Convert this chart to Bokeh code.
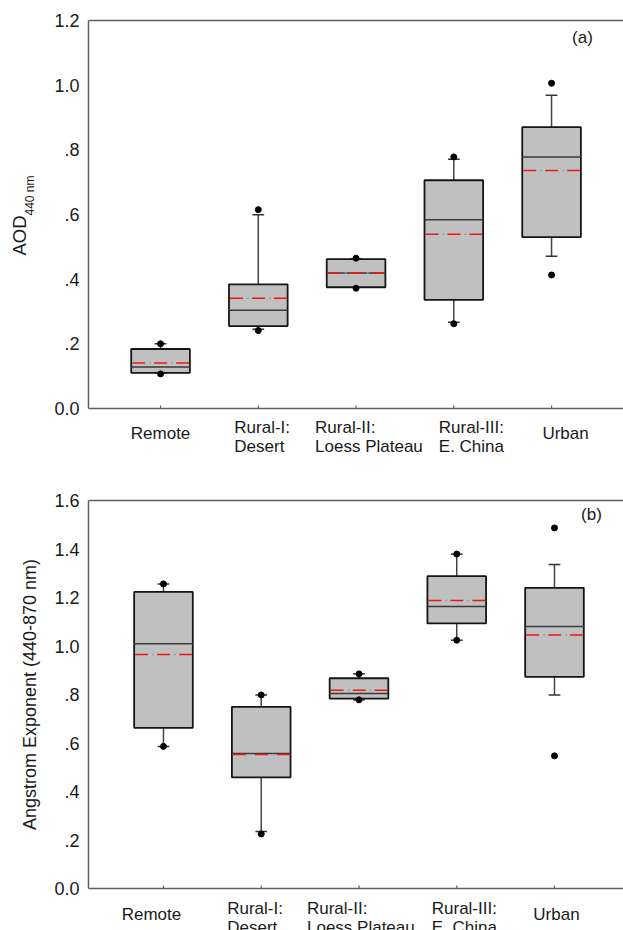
import math
from bokeh.plotting import figure
from bokeh.models import ColumnDataSource, FixedTicker, LinearAxis, Label, Range1d
from bokeh.core.properties import value
from bokeh.layouts import column
from bokeh.embed import file_html
from bokeh.resources import INLINE

# ---------------- data ----------------
cat_line1 = ["Remote", "Rural-I:", "Rural-II:", "Rural-III:", "Urban"]
cat_line2 = ["", "Desert", "Loess Plateau", "E. China", ""]
cat_pos = [1, 2, 3, 4, 5]

# Panel (a): AOD 440 nm
aod_q1 = [0.110, 0.255, 0.375, 0.336, 0.530]
aod_median = [0.128, 0.304, 0.419, 0.584, 0.778]
aod_q3 = [0.184, 0.384, 0.462, 0.706, 0.870]
aod_mean = [0.141, 0.341, 0.419, 0.539, 0.736]
aod_whisker_low = [0.110, 0.245, 0.375, 0.267, 0.471]
aod_whisker_high = [0.200, 0.599, 0.462, 0.771, 0.969]
aod_point_low = [0.107, 0.241, 0.372, 0.262, 0.413]
aod_point_high = [0.200, 0.615, 0.465, 0.778, 1.006]
aod_ticks = [0, 0.2, 0.4, 0.6, 0.8, 1.0, 1.2]
aod_tick_labels = ["0.0", ".2", ".4", ".6", ".8", "1.0", "1.2"]

# Panel (b): Angstrom exponent 440-870 nm
ae_q1 = [0.662, 0.458, 0.783, 1.093, 0.873]
ae_median = [1.009, 0.557, 0.804, 1.163, 1.080]
ae_q3 = [1.223, 0.749, 0.867, 1.288, 1.240]
ae_mean = [0.965, 0.553, 0.818, 1.188, 1.045]
ae_whisker_low = [0.586, 0.235, 0.778, 1.024, 0.798]
ae_whisker_high = [1.256, 0.798, 0.885, 1.379, 1.336]
ae_point_low = [0.586, 0.225, 0.778, 1.024, 0.547]
ae_point_high = [1.256, 0.798, 0.885, 1.379, 1.487]
ae_ticks = [0, 0.2, 0.4, 0.6, 0.8, 1.0, 1.2, 1.4, 1.6]
ae_tick_labels = ["0.0", ".2", ".4", ".6", ".8", "1.0", "1.2", "1.4", "1.6"]

# ---------------- styles ----------------
FONT = "Liberation Sans"
BOX_W = 0.6
CAP_W = 0.12
MEAN_W = 0.58
BOX_FILL = "#c0c0c0"
AXIS_COLOR = "#606060"
TEXT_COLOR = "#1a1a1a"
FRAME_W = 535
FRAME_H = 388


def make_panel(q1, med, q3, mean, wlo, whi, plo, phi, ticks, tick_labels,
               x_start, x_end, y_end, border_top, border_bottom):
    src = ColumnDataSource(dict(
        x=cat_pos,
        zero=[0] * len(cat_pos),
        left=[c - BOX_W / 2 for c in cat_pos],
        right=[c + BOX_W / 2 for c in cat_pos],
        mx0=[c - MEAN_W / 2 for c in cat_pos],
        mx1=[c + MEAN_W / 2 for c in cat_pos],
        cx0=[c - CAP_W / 2 for c in cat_pos],
        cx1=[c + CAP_W / 2 for c in cat_pos],
        q1=q1, med=med, q3=q3, mean=mean, wlo=wlo, whi=whi, plo=plo, phi=phi,
    ))
    p = figure(frame_width=FRAME_W, frame_height=FRAME_H,
               x_range=Range1d(x_start, x_end), y_range=Range1d(0, y_end),
               output_backend="svg", toolbar_location=None,
               min_border_left=88, min_border_right=0,
               min_border_top=border_top, min_border_bottom=border_bottom)
    p.grid.visible = False
    p.outline_line_color = None
    p.background_fill_color = "white"

    p.segment(x0="x", y0="q3", x1="x", y1="whi", source=src,
              line_color="#444444", line_width=1.5)
    p.segment(x0="x", y0="q1", x1="x", y1="wlo", source=src,
              line_color="#444444", line_width=1.5)
    p.segment(x0="cx0", y0="whi", x1="cx1", y1="whi", source=src,
              line_color="#333333", line_width=1.5)
    p.segment(x0="cx0", y0="wlo", x1="cx1", y1="wlo", source=src,
              line_color="#333333", line_width=1.5)
    p.quad(left="left", right="right", bottom="q1", top="q3", source=src,
           fill_color=BOX_FILL, line_color="#151515", line_width=1.8)
    p.segment(x0="left", y0="med", x1="right", y1="med", source=src,
              line_color="#3a3a3a", line_width=1.5)
    p.segment(x0="mx0", y0="mean", x1="mx1", y1="mean", source=src,
              line_color="#ee1515", line_width=1.5, line_dash="13 9")
    p.segment(x0="mx0", y0="mean", x1="mx1", y1="mean", source=src,
              line_color="#8fa3a3", line_width=1.5, line_dash="2 20",
              line_dash_offset=5)
    p.scatter(x="x", y="phi", source=src, size=6, color="black")
    p.scatter(x="x", y="plo", source=src, size=6, color="black")
    # small inward category tick marks on the x axis (lower half clipped)
    p.scatter(x="x", y="zero", source=src, marker="dash", angle=math.pi / 2,
              size=6, line_color=AXIS_COLOR, line_width=1.2)

    p.yaxis.ticker = FixedTicker(ticks=ticks)
    p.yaxis.major_label_overrides = {t: l for t, l in zip(ticks, tick_labels)}
    p.yaxis.major_tick_in = 0
    p.yaxis.major_tick_out = 0
    p.yaxis.minor_tick_line_color = None
    p.yaxis.major_label_standoff = 9
    p.yaxis.major_label_text_font = FONT
    p.yaxis.major_label_text_font_size = "18px"
    p.yaxis.major_label_text_color = TEXT_COLOR
    p.yaxis.axis_line_color = AXIS_COLOR
    p.yaxis.axis_line_width = 1.5

    p.xaxis.ticker = FixedTicker(ticks=[])
    p.xaxis.major_tick_in = 0
    p.xaxis.major_tick_out = 0
    p.xaxis.minor_tick_line_color = None
    p.xaxis.major_label_standoff = 0
    p.xaxis.axis_line_color = AXIS_COLOR
    p.xaxis.axis_line_width = 1.5

    top = LinearAxis(ticker=FixedTicker(ticks=[]), major_label_standoff=0,
                     major_tick_in=0, major_tick_out=0,
                     axis_line_color=AXIS_COLOR, axis_line_width=1.5)
    p.add_layout(top, "above")
    return p


def add_category_labels(p, dx_list, dy_single, dy_first, dy_second):
    xs, ys, ts, dxs, dys, als = [], [], [], [], [], []
    for i, c in enumerate(cat_pos):
        if cat_line2[i]:
            lines = [(cat_line1[i], dy_first), (cat_line2[i], dy_second)]
        else:
            lines = [(cat_line1[i], dy_single)]
        for t, dy in lines:
            xs.append(c); ys.append(0); ts.append(t)
            dxs.append(dx_list[i]); dys.append(dy); als.append(label_align[i])
    s = ColumnDataSource(dict(x=xs, y=ys, text=ts, dx=dxs, dy=dys, align=als))
    p.text(x="x", y="y", text="text", x_offset="dx", y_offset="dy",
           text_align="align", text_baseline="middle", text_font=value(FONT),
           text_font_size="17px", text_color=TEXT_COLOR, source=s, level="overlay")


# label placement styles (pixel offsets from each category tick)
label_dx_a = [0, -24, -41, -15, 14]
label_dx_b = [-12, -34, -52, -25, 2]
label_align = ["center", "left", "left", "left", "center"]

XA0, XA1 = 0.263, 5.736
XB0, XB1 = 0.233, 5.706

pa = make_panel(aod_q1, aod_median, aod_q3, aod_mean, aod_whisker_low,
                aod_whisker_high, aod_point_low, aod_point_high,
                aod_ticks, aod_tick_labels, XA0, XA1, 1.2, 20, 70)
pb = make_panel(ae_q1, ae_median, ae_q3, ae_mean, ae_whisker_low,
                ae_whisker_high, ae_point_low, ae_point_high,
                ae_ticks, ae_tick_labels, XB0, XB1, 1.6, 22, 42)

add_category_labels(pa, label_dx_a, 25, 19, 38)
add_category_labels(pb, label_dx_b, 26, 20, 39)

# y-axis title of panel (a): "AOD" with subscript "440 nm" (drawn outside the frame)
px_x = FRAME_W / (XA1 - XA0)
px_y = FRAME_H / 1.2
ttl = ColumnDataSource(dict(
    x=[XA0 - 69.5 / px_x, XA0 - 58.5 / px_x],
    y=[173 / px_y, 213 / px_y],
    text=["AOD", "440 nm"],
    size=["18.5px", "12px"],
))
pa.text(x="x", y="y", text="text", angle=math.pi / 2, text_align="center",
        text_baseline="middle", text_font=value(FONT), text_font_size="size",
        text_color=TEXT_COLOR, source=ttl, level="overlay")

pb.yaxis.axis_label = "Angstrom Exponent (440-870 nm)"
pb.yaxis.axis_label_text_font = FONT
pb.yaxis.axis_label_text_font_size = "18px"
pb.yaxis.axis_label_text_font_style = "normal"
pb.yaxis.axis_label_text_color = TEXT_COLOR
pb.yaxis.axis_label_standoff = 11

pa.add_layout(Label(x=XA1, y=1.2, x_offset=-41, y_offset=-17, text="(a)",
                    text_align="center", text_baseline="middle",
                    text_font=FONT, text_font_size="17px", text_color=TEXT_COLOR))
pb.add_layout(Label(x=XB1, y=1.6, x_offset=-32, y_offset=-14, text="(b)",
                    text_align="center", text_baseline="middle",
                    text_font=FONT, text_font_size="17px", text_color=TEXT_COLOR))

layout = column(pa, pb, spacing=0)
open("out.html", "w").write(file_html(layout, INLINE))
